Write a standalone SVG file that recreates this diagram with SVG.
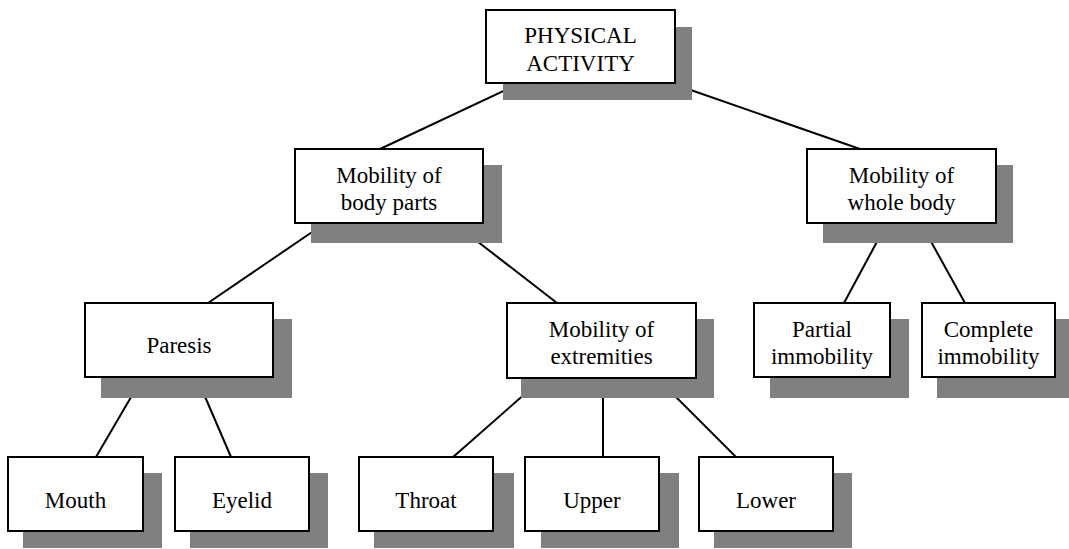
<svg xmlns="http://www.w3.org/2000/svg" width="1069" height="549" viewBox="0 0 1069 549">
<defs>
<rect id="dummy" width="0" height="0"/>
</defs>
<rect width="1069" height="549" fill="#fff"/>
<g id="connectors" stroke="#000" stroke-width="2">
<line x1="380" y1="149" x2="510" y2="88"/>
<line x1="685" y1="88" x2="860" y2="149"/>
<line x1="208" y1="303" x2="318" y2="228"/>
<line x1="473" y1="238" x2="557" y2="303"/>
<line x1="96" y1="457" x2="134" y2="392"/>
<line x1="231" y1="457" x2="203" y2="392"/>
<line x1="452" y1="458" x2="527" y2="392"/>
<line x1="603" y1="457" x2="603" y2="392"/>
<line x1="737" y1="458" x2="671" y2="392"/>
<line x1="844" y1="303" x2="879" y2="238"/>
<line x1="965" y1="303" x2="929" y2="238"/>
</g>
<g font-family="Liberation Serif, serif" font-size="23" text-anchor="middle">
<g id="n-physical">
<rect fill="#808080" x="503" y="27" width="189" height="73"/>
<rect fill="#fff" stroke="#000" stroke-width="2" x="486" y="10" width="189" height="73"/>
<text x="580.5" y="43">PHYSICAL</text>
<text x="580.5" y="71">ACTIVITY</text>
</g>
<g id="n-bodyparts">
<rect fill="#808080" x="311" y="165" width="191" height="78"/>
<rect fill="#fff" stroke="#000" stroke-width="2" x="295" y="149" width="188" height="74"/>
<text x="389" y="183">Mobility of</text>
<text x="389" y="210">body parts</text>
</g>
<g id="n-wholebody">
<rect fill="#808080" x="823" y="165" width="190" height="78"/>
<rect fill="#fff" stroke="#000" stroke-width="2" x="807" y="149" width="189" height="74"/>
<text x="901.5" y="183">Mobility of</text>
<text x="901.5" y="210">whole body</text>
</g>
<g id="n-paresis">
<rect fill="#808080" x="101" y="319" width="191" height="79"/>
<rect fill="#fff" stroke="#000" stroke-width="2" x="85" y="303" width="188" height="74"/>
<text x="179" y="353">Paresis</text>
</g>
<g id="n-extremities">
<rect fill="#808080" x="521" y="319" width="193" height="79"/>
<rect fill="#fff" stroke="#000" stroke-width="2" x="507" y="303" width="189" height="75"/>
<text x="601.5" y="337">Mobility of</text>
<text x="601.5" y="364">extremities</text>
</g>
<g id="n-partial">
<rect fill="#808080" x="770" y="319" width="139" height="79"/>
<rect fill="#fff" stroke="#000" stroke-width="2" x="754" y="303" width="136" height="74"/>
<text x="822" y="337">Partial</text>
<text x="822" y="364">immobility</text>
</g>
<g id="n-complete">
<rect fill="#808080" x="937" y="319" width="132" height="79"/>
<rect fill="#fff" stroke="#000" stroke-width="2" x="922" y="303" width="133" height="74"/>
<text x="988.5" y="337">Complete</text>
<text x="988.5" y="364">immobility</text>
</g>
<g id="n-mouth">
<rect fill="#808080" x="23" y="473" width="139" height="75"/>
<rect fill="#fff" stroke="#000" stroke-width="2" x="8" y="457" width="135" height="74"/>
<text x="75.5" y="508">Mouth</text>
</g>
<g id="n-eyelid">
<rect fill="#808080" x="190" y="473" width="138" height="75"/>
<rect fill="#fff" stroke="#000" stroke-width="2" x="175" y="457" width="134" height="74"/>
<text x="242" y="508">Eyelid</text>
</g>
<g id="n-throat">
<rect fill="#808080" x="374" y="473" width="140" height="75"/>
<rect fill="#fff" stroke="#000" stroke-width="2" x="359" y="457" width="134" height="74"/>
<text x="426" y="508">Throat</text>
</g>
<g id="n-upper">
<rect fill="#808080" x="541" y="473" width="138" height="75"/>
<rect fill="#fff" stroke="#000" stroke-width="2" x="525" y="457" width="134" height="74"/>
<text x="592" y="508">Upper</text>
</g>
<g id="n-lower">
<rect fill="#808080" x="714" y="473" width="138" height="75"/>
<rect fill="#fff" stroke="#000" stroke-width="2" x="699" y="457" width="134" height="74"/>
<text x="766" y="508">Lower</text>
</g>
</g>
</svg>
